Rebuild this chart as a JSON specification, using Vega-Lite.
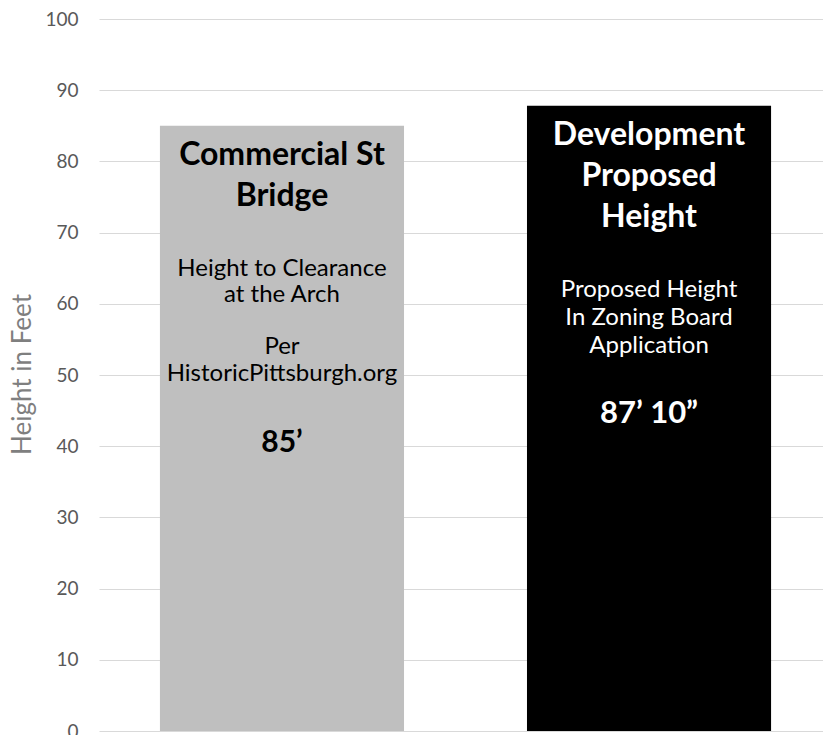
{
  "$schema": "https://vega.github.io/schema/vega-lite/v6.json",
  "autosize": "none",
  "padding": {"left": 99, "top": 19, "right": 0, "bottom": 4},
  "width": 733,
  "height": 712,
  "background": "#ffffff",
  "config": {
    "view": {"stroke": null},
    "font": "Lato",
    "axis": {"labelFont": "Lato", "titleFont": "Lato"}
  },
  "data": {
    "values": [
      {"structure": "Commercial St Bridge", "height": 85, "title": ["Commercial St", "Bridge"], "note": ["Height to Clearance", "at the Arch"], "source": ["Per", "HistoricPittsburgh.org"], "label": "85’"},
      {"structure": "Development Proposed Height", "height": 87.833, "title": ["Development", "Proposed", "Height"], "note": ["Proposed Height", "In Zoning Board", "Application"], "source": null, "label": "87’ 10”"}
    ]
  },
  "encoding": {
    "x": {"field": "structure", "type": "nominal", "sort": null, "axis": null, "scale": {"paddingInner": 0.335, "paddingOuter": 0.166}},
    "y": {"field": "height", "type": "quantitative", "scale": {"domain": [0, 100], "nice": false}, "title": "Height in Feet",
      "axis": {"values": [0, 10, 20, 30, 40, 50, 60, 70, 80, 90, 100], "domain": false, "ticks": false, "tickSize": 0, "labelPadding": 21, "labelFontSize": 19, "labelColor": "#595959", "gridColor": "#d9d9d9", "gridWidth": 1.2, "titleFontSize": 26, "titleFontWeight": "normal", "titleColor": "#7f7f7f", "titleX": -77, "titleY": 355, "titleAngle": -90, "titleAlign": "center", "titleBaseline": "middle"}}
  },
  "layer": [
    {"mark": {"type": "bar"}, "encoding": {"color": {"field": "structure", "type": "nominal", "sort": null, "scale": {"range": ["#bfbfbf", "#000000"]}, "legend": null}}},
    {"transform": [{"filter": "datum.structure === 'Commercial St Bridge'"}], "layer": [
      {"mark": {"type": "text", "fontWeight": "bold", "fontSize": 32, "lineHeight": 41, "dy": 39, "baseline": "alphabetic", "color": "#000000"}, "encoding": {"text": {"field": "title"}}},
      {"mark": {"type": "text", "fontSize": 24, "lineHeight": 26, "dy": 150, "baseline": "alphabetic", "color": "#000000"}, "encoding": {"text": {"field": "note"}}},
      {"mark": {"type": "text", "fontSize": 24, "lineHeight": 27, "dy": 228, "baseline": "alphabetic", "color": "#000000"}, "encoding": {"text": {"field": "source"}}},
      {"mark": {"type": "text", "fontWeight": "bold", "fontSize": 30, "dy": 326, "baseline": "alphabetic", "color": "#000000"}, "encoding": {"text": {"field": "label"}}}
    ]},
    {"transform": [{"filter": "datum.structure === 'Development Proposed Height'"}], "layer": [
      {"mark": {"type": "text", "fontWeight": "bold", "fontSize": 32, "lineHeight": 41, "dy": 39, "baseline": "alphabetic", "color": "#ffffff"}, "encoding": {"text": {"field": "title"}}},
      {"mark": {"type": "text", "fontSize": 24, "lineHeight": 28, "dy": 191, "baseline": "alphabetic", "color": "#ffffff"}, "encoding": {"text": {"field": "note"}}},
      {"mark": {"type": "text", "fontWeight": "bold", "fontSize": 31, "dy": 317, "baseline": "alphabetic", "color": "#ffffff"}, "encoding": {"text": {"field": "label"}}}
    ]}
  ]
}
